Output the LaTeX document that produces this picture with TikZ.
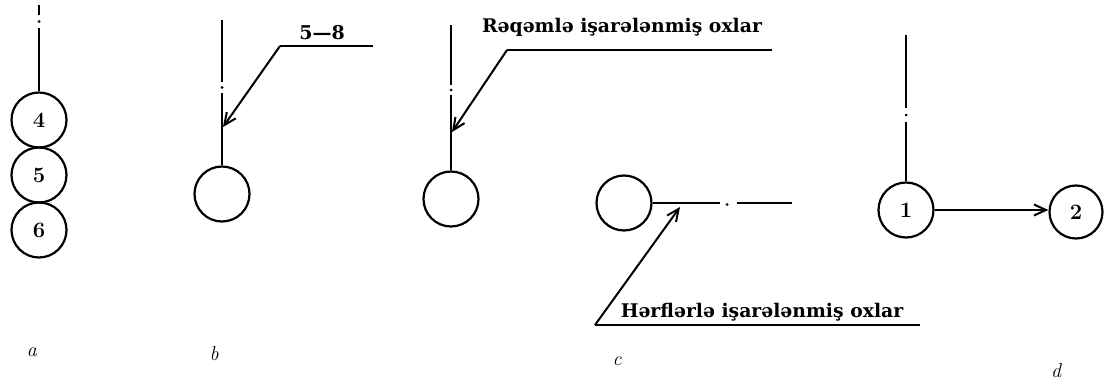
\documentclass[tikz,border=0pt]{standalone}
\usepackage{fontspec}
\newfontfamily\labfont{DejaVu Serif}
\usetikzlibrary{arrows.meta}
\tikzset{
  ax/.style={line width=2.2pt},
  ring/.style={circle,draw,line width=2.2pt,minimum size=55pt,inner sep=0pt,font=\bfseries\fontsize{22}{22}\selectfont},
  dotmark/.style={circle,fill,inner sep=0pt,minimum size=3pt},
  lead/.style={line width=2pt},
  tipar/.style={-{Straight Barb[length=12pt,width=11pt,line width=2pt]}},
  captext/.style={font=\labfont\bfseries\fontsize{18.8}{19}\selectfont},
  subtext/.style={font=\itshape\fontsize{20}{20}\selectfont}
}
\begin{document}
\begin{tikzpicture}[x=1pt,y=-1pt]
\useasboundingbox (0,0) rectangle (1104,380);
% ---------- a ----------
\node[ring] (n4) at (39,120) {4};
\node[ring] (n5) at (39,175) {5};
\node[ring] (n6) at (39,230) {6};
\coordinate (a1) at (39,5);
\coordinate (a2) at (39,15);
\node[dotmark] (ad) at (39,21.5) {};
\coordinate (a3) at (39,28);
\draw[ax] (a1) -- (a2);
\draw[ax] (a3) -- (n4.north);
% ---------- b ----------
\node[ring] (bc) at (222,194) {};
\coordinate (b1) at (222,20);
\coordinate (b2) at (222,82);
\node[dotmark] (bd) at (222,87.5) {};
\coordinate (b3) at (222,93);
\draw[ax] (b1) -- (b2);
\draw[ax] (b3) -- (bc.north);
\coordinate (bt) at (223,127);
\coordinate (bk) at (280,46);
\coordinate (be) at (373,46);
\draw[lead] (be) -- (bk);
\draw[lead,tipar] (bk) -- (bt);
\node[font=\labfont\bfseries\fontsize{19}{19}\selectfont] (bl) at (322,33) {5—8};
% ---------- c (top) ----------
\node[ring] (cc) at (451,199) {};
\coordinate (c1) at (451,25);
\coordinate (c2) at (451,85);
\node[dotmark] (cd) at (451,90) {};
\coordinate (c3) at (451,95);
\draw[ax] (c1) -- (c2);
\draw[ax] (c3) -- (cc.north);
\coordinate (ct) at (452,132);
\coordinate (ck) at (507,50);
\coordinate (ce) at (772,50);
\draw[lead] (ce) -- (ck);
\draw[lead,tipar] (ck) -- (ct);
\node[captext] (cl) at (622,27) {Rəqəmlə işarələnmiş oxlar};
% ---------- c (bottom) ----------
\node[ring] (hc) at (624,203) {};
\coordinate (h2) at (720,203);
\node[dotmark] (hd) at (727,204.5) {};
\coordinate (h3) at (737,203);
\coordinate (h4) at (792,203);
\draw[ax] (hc.east) -- (h2);
\draw[ax] (h3) -- (h4);
\coordinate (ht) at (680,207);
\coordinate (hk) at (595,325);
\coordinate (he) at (920,325);
\draw[lead] (he) -- (hk);
\draw[lead,tipar] (hk) -- (ht);
\node[captext] (hl) at (762,312) {Hərflərlə işarələnmiş oxlar};
% ---------- d ----------
\node[ring] (d1) at (906,210) {1};
\node[ring,minimum size=53pt] (d2) at (1076,212) {2};
\coordinate (e1) at (906,35);
\coordinate (e2) at (906,108);
\node[dotmark] (ed) at (906,115) {};
\coordinate (e3) at (906,122);
\draw[ax] (e1) -- (e2);
\draw[ax] (e3) -- (d1.north);
\draw[ax,tipar] (d1.east) -- (d2.west |- d1.east);
% ---------- sub-labels ----------
\node[subtext] (la) at (32,352) {a};
\node[subtext] (lb) at (214,354) {b};
\node[subtext] (lc) at (617,361) {c};
\node[subtext] (ld) at (1056,371) {d};
\end{tikzpicture}
\end{document}
